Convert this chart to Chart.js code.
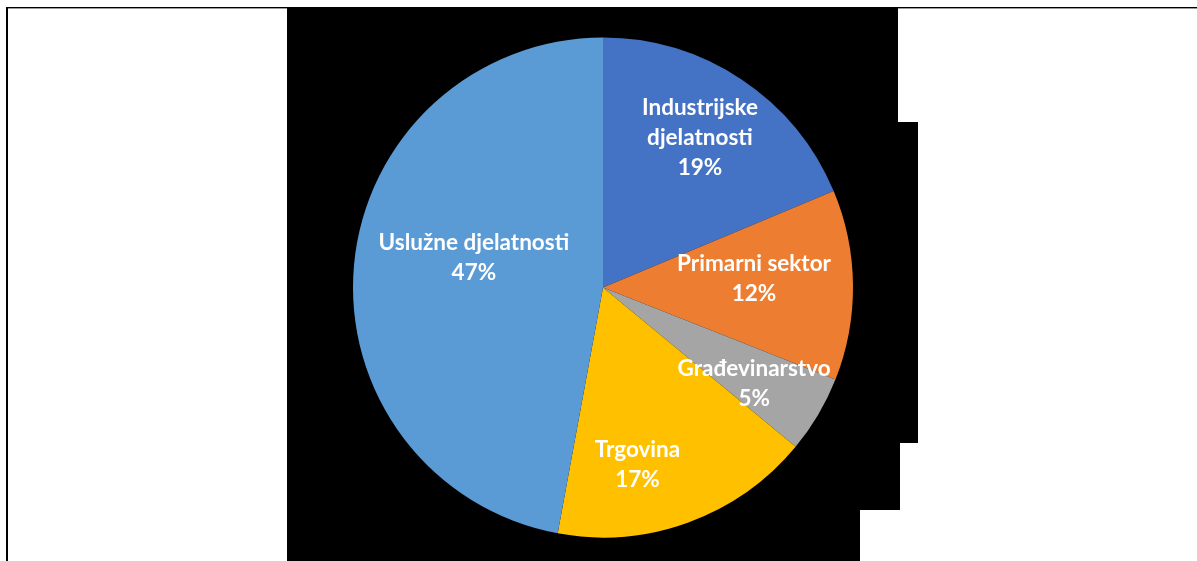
<!DOCTYPE html>
<html>
<head>
<meta charset="utf-8">
<script src="https://cdn.jsdelivr.net/npm/chart.js@4/dist/chart.umd.min.js"></script>
<style>
  html, body { margin: 0; padding: 0; background: #ffffff; width: 1197px; height: 561px; overflow: hidden; }
  #wrap { position: relative; width: 1197px; height: 561px; }
  .blk { position: absolute; background: #000; }
  .frame-left { position: absolute; left: 6px; top: 7px; width: 2px; height: 554px; background: #000; }
  .frame-top { position: absolute; left: 6px; top: 7px; width: 1191px; height: 1px; background: #000; }
  .frame-top2 { position: absolute; left: 8px; top: 8px; width: 1189px; height: 1px; background: #9a9a9a; }
  canvas { position: absolute; left: 0; top: 0; }
</style>
</head>
<body>
<div id="wrap">
  <div class="frame-top"></div>
  <div class="frame-top2"></div>
  <div class="frame-left"></div>
  <div class="blk" style="left:287px;top:7px;width:573px;height:554px"></div>
  <div class="blk" style="left:860px;top:7px;width:38px;height:503px"></div>
  <div class="blk" style="left:898px;top:122px;width:2px;height:388px"></div>
  <div class="blk" style="left:900px;top:122px;width:18px;height:321px"></div>
  <canvas id="c" width="1197" height="561"></canvas>
</div>
<script>
const categories = ["Industrijske djelatnosti", "Primarni sektor", "Građevinarstvo", "Trgovina", "Uslužne djelatnosti"];
const labelLines = [["Industrijske", "djelatnosti"], ["Primarni sektor"], ["Građevinarstvo"], ["Trgovina"], ["Uslužne djelatnosti"]];
const shares = [18.7, 12.3, 5.0, 16.9, 47.1];
const colors = ["#4472C4", "#ED7D31", "#A5A5A5", "#FFC000", "#5B9BD5"];
const labelRadius = [0.713, 0.605, 0.716, 0.723, 0.53];
const labelAngleShift = [-0.7, -2.7, 1.8, 9.0, 7.7];

const labelPlugin = {
  id: 'sliceLabels',
  afterDatasetsDraw(chart) {
    const ctx = chart.ctx;
    const meta = chart.getDatasetMeta(0);
    const ds = chart.data.datasets[0];
    const total = ds.data.reduce((a, b) => a + b, 0);
    ctx.save();
    ctx.fillStyle = '#ffffff';
    ctx.font = 'bold 22.5px Lato, "Open Sans", sans-serif';
    ctx.textAlign = 'center';
    ctx.textBaseline = 'middle';
    const lh = 30;
    meta.data.forEach((arc, i) => {
      const p = arc.getProps(['x', 'y', 'startAngle', 'endAngle', 'outerRadius'], true);
      const mid = (p.startAngle + p.endAngle) / 2 + labelAngleShift[i] * Math.PI / 180;
      const r = p.outerRadius * labelRadius[i];
      const cx = p.x + Math.cos(mid) * r;
      const cy = p.y + Math.sin(mid) * r;
      const pct = Math.round(ds.data[i] / total * 100);
      const lines = labelLines[i].concat([pct + '%']);
      const y0 = cy - (lines.length - 1) * lh / 2;
      lines.forEach((t, k) => ctx.fillText(t, cx, y0 + k * lh));
    });
    ctx.restore();
  }
};

new Chart(document.getElementById('c'), {
  type: 'pie',
  data: {
    labels: categories,
    datasets: [{
      data: shares,
      backgroundColor: colors,
      borderWidth: 0,
      hoverOffset: 0
    }]
  },
  options: {
    responsive: false,
    animation: false,
    events: [],
    layout: { padding: { left: 353, right: 344, top: 37.5, bottom: 23.5 } },
    plugins: { legend: { display: false }, tooltip: { enabled: false } }
  },
  plugins: [labelPlugin]
});
</script>
</body>
</html>
